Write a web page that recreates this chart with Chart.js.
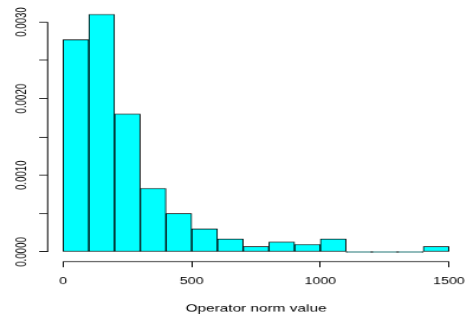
<!DOCTYPE html>
<html>
<head>
<meta charset="utf-8">
<script src="https://cdn.jsdelivr.net/npm/chart.js@4/dist/chart.umd.min.js"></script>
<style>
  html, body { margin: 0; padding: 0; background: #fff; }
</style>
</head>
<body>
<!-- drawn on a 400x400 canvas and stretched to the reference size,
     like the original square plot that was resized -->
<canvas id="hist" width="400" height="400" style="width:473px;height:322px;display:block"></canvas>
<script>
// histogram bins (left edges), width 100
const binStart = [0, 100, 200, 300, 400, 500, 600, 700, 800, 900, 1000, 1100, 1200, 1300, 1400];
const binWidth = 100;
// density
const density = [0.00277, 0.00310, 0.00180, 0.00083, 0.00050, 0.00030, 0.00017,
                 0.00007, 0.00013, 0.00010, 0.00017, 0, 0, 0, 0.00007];

const xTicks = [0, 500, 1000, 1500];
const yTicks = [0, 0.0005, 0.001, 0.0015, 0.002, 0.0025, 0.003];
const yLabeled = [0, 0.001, 0.002, 0.003];
const xTitle = "Operator norm value";

Chart.defaults.font.family = "'Liberation Sans', Arial, Helvetica, sans-serif";
Chart.defaults.font.size = 12;
Chart.defaults.color = "#000";

// R draws the axis line only between the first and last tick
const axisLines = {
  id: "axisLines",
  afterDraw(chart) {
    const { ctx, chartArea, scales: { x, y } } = chart;
    ctx.save();
    ctx.strokeStyle = "#000";
    ctx.lineWidth = 1;
    ctx.beginPath();
    ctx.moveTo(x.getPixelForValue(xTicks[0]), chartArea.bottom);
    ctx.lineTo(x.getPixelForValue(xTicks[xTicks.length - 1]), chartArea.bottom);
    ctx.moveTo(chartArea.left, y.getPixelForValue(yTicks[0]));
    ctx.lineTo(chartArea.left, y.getPixelForValue(yTicks[yTicks.length - 1]));
    ctx.stroke();
    ctx.restore();
  },
};

const xMin = binStart[0], xMax = binStart[binStart.length - 1] + binWidth;
const yMax = Math.max(...density);
const xPad = (xMax - xMin) * 0.04, yPad = yMax * 0.04;

new Chart(document.getElementById("hist"), {
  type: "bar",
  data: {
    datasets: [{
      data: binStart.map((b, i) => ({ x: b + binWidth / 2, y: density[i] })),
      backgroundColor: "#00ffff",
      borderColor: "#000",
      borderWidth: 1,
      borderSkipped: false,
      minBarLength: 1,
      barPercentage: 1,
      categoryPercentage: 1,
    }],
  },
  options: {
    responsive: false,
    devicePixelRatio: 1,
    animation: false,
    layout: { padding: { top: 6, right: 7.3, left: 0, bottom: 0 } },
    plugins: { legend: { display: false }, tooltip: { enabled: false } },
    scales: {
      x: {
        type: "linear",
        offset: false,
        min: xMin - xPad,
        max: xMax + xPad,
        afterBuildTicks: (s) => { s.ticks = xTicks.map((v) => ({ value: v })); },
        afterFit: (s) => { s.height = 75.2; s.paddingLeft = 0; s.paddingRight = 0; },
        ticks: { autoSkip: false, padding: 10.5, maxRotation: 0, callback: (v) => String(v) },
        grid: { offset: false, drawOnChartArea: false, tickLength: 7.2, tickColor: "#000", tickWidth: 1 },
        border: { display: false },
        title: { display: true, text: xTitle, font: { size: 13 }, padding: { top: 0, bottom: 9.2 } },
      },
      y: {
        min: -yPad,
        max: yMax + yPad,
        afterBuildTicks: (s) => { s.ticks = yTicks.map((v) => ({ value: v })); },
        afterFit: (s) => { s.width = 40.3; s.paddingTop = 0; s.paddingBottom = 0; },
        ticks: {
          autoSkip: false,
          minRotation: 90,
          maxRotation: 90,
          crossAlign: "center",
          padding: -4,
          callback: (v) => (yLabeled.includes(v) ? v.toFixed(4) : ""),
        },
        grid: { drawOnChartArea: false, tickLength: 7.2, tickColor: "#000", tickWidth: 1 },
        border: { display: false },
      },
    },
  },
  plugins: [axisLines],
});
</script>
</body>
</html>
